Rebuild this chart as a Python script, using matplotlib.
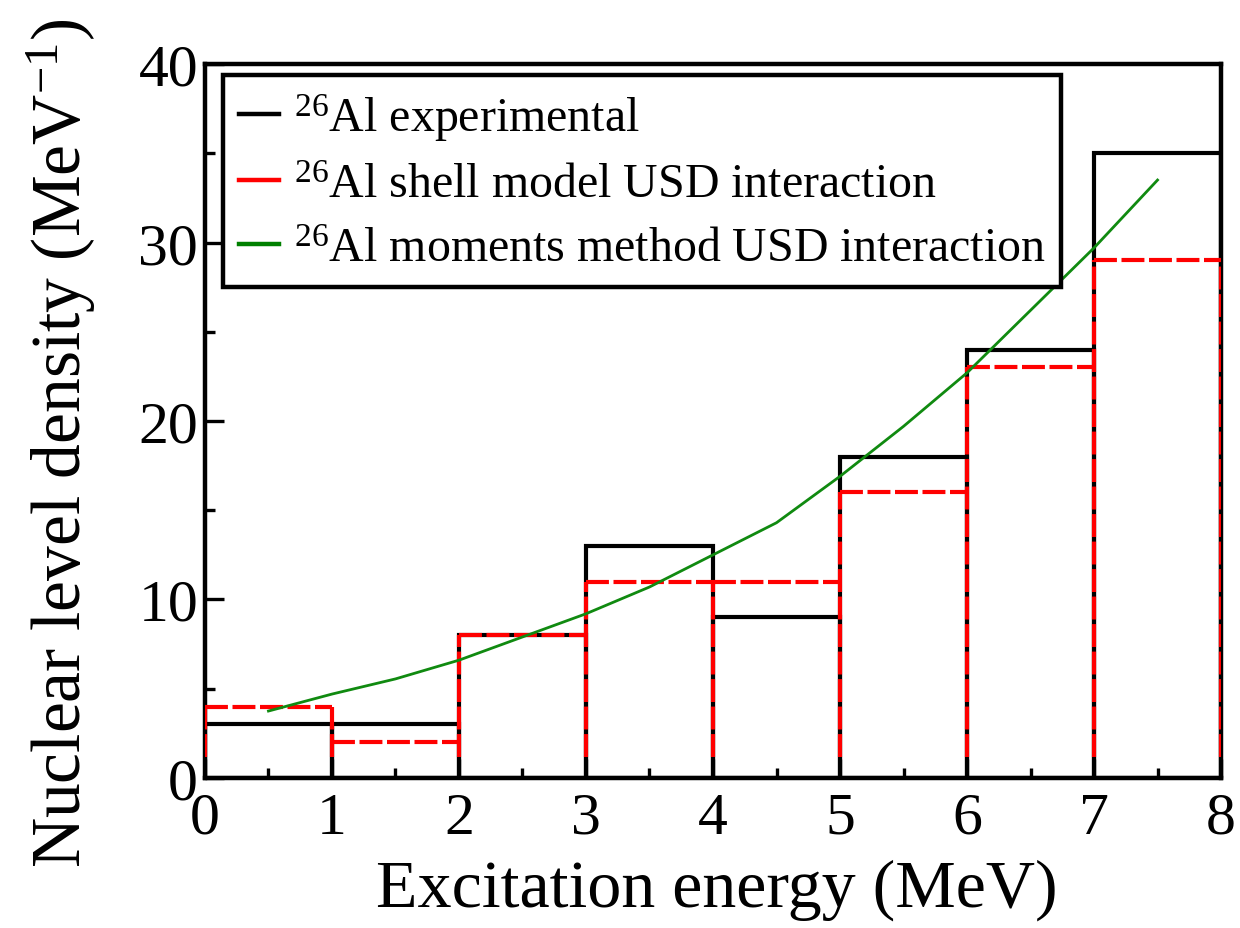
import numpy as np
import matplotlib
matplotlib.use("Agg")
import matplotlib.pyplot as plt
from matplotlib.ticker import MultipleLocator

# histogram bins (MeV)
bin_edges = [0, 1, 2, 3, 4, 5, 6, 7, 8]
exp_density = [3, 3, 8, 13, 9, 18, 24, 35]
sm_density = [4, 2, 8, 11, 11, 16, 23, 29]

# moments method curve
mm_energy = [0.5, 1.0, 1.5, 2.0, 2.5, 3.0, 3.5, 4.0, 4.5, 5.0, 5.5, 6.0, 6.5, 7.0, 7.5]
mm_density = [3.75, 4.7, 5.55, 6.6, 7.9, 9.2, 10.7, 12.5, 14.3, 16.9, 19.7, 22.7, 26.2, 29.7, 33.5]

labels = [r"$^{26}$Al experimental",
          r"$^{26}$Al shell model USD interaction",
          r"$^{26}$Al moments method USD interaction"]

plt.rcParams["font.family"] = ["Liberation Serif", "DejaVu Serif"]
plt.rcParams["mathtext.fontset"] = "custom"
plt.rcParams["mathtext.rm"] = "Liberation Serif"
plt.rcParams["mathtext.it"] = "Liberation Serif:italic"
plt.rcParams["mathtext.bf"] = "Liberation Serif:bold"


def main():
    edges = np.array(bin_edges, dtype=float)
    exp_v = np.array(exp_density, dtype=float)
    sm_v = np.array(sm_density, dtype=float)

    fig = plt.figure(figsize=(12.4, 9.29), dpi=100)
    ax = fig.add_axes([0.1653, 0.1615, 0.8194, 0.7685])

    lw = 3.0
    # experimental: bar outlines
    ax.bar(edges[:-1], exp_v, width=np.diff(edges), align="edge", fill=False,
           edgecolor="black", linewidth=lw, zorder=2)

    # shell model: red outlines, dashed so the black shows through
    dash = (5.5, 1.1)
    ax.hlines(sm_v, edges[:-1], edges[1:], colors="red", linewidth=lw,
              linestyles=[(0, dash)], zorder=3)
    vert_top = np.maximum(np.r_[0, sm_v], np.r_[sm_v, 0])
    ax.vlines(edges, 1.15, vert_top, colors="red", linewidth=lw,
              linestyles=[(0, dash)], zorder=3)

    ax.plot(mm_energy, mm_density, color="#108a10", linewidth=2.0, zorder=4)

    # legend proxies
    h_exp, = ax.plot([], [], color="black", linewidth=3.2)
    h_sm, = ax.plot([], [], color="red", linewidth=3.2)
    h_mm, = ax.plot([], [], color="#008000", linewidth=3.2)
    leg = ax.legend([h_exp, h_sm, h_mm], labels, loc="upper left",
                    bbox_to_anchor=(0.0177, 0.9846), borderaxespad=0,
                    fontsize=34.5, handlelength=0.85, handletextpad=0.3,
                    labelspacing=0.42, borderpad=0.33, fancybox=False,
                    framealpha=1, edgecolor="black")
    leg.get_frame().set_linewidth(3.2)

    ax.set_xlim(0, 8)
    ax.set_ylim(0, 40)
    ax.xaxis.set_major_locator(MultipleLocator(1))
    ax.xaxis.set_minor_locator(MultipleLocator(0.5))
    ax.yaxis.set_major_locator(MultipleLocator(10))
    ax.yaxis.set_minor_locator(MultipleLocator(5))
    ax.tick_params(which="both", direction="in", top=False, right=False,
                   labelsize=43, width=2.4)
    ax.tick_params(which="major", length=13.5)
    ax.tick_params(axis="x", which="major", pad=10)
    ax.tick_params(axis="y", which="major", pad=5)
    ax.tick_params(which="minor", length=7.2)
    for sp in ax.spines.values():
        sp.set_linewidth(3.2)

    ax.set_xlabel("Excitation energy (MeV)", fontsize=49)
    ax.set_ylabel(r"Nuclear level density (MeV$^{-1}$)", fontsize=50)
    ax.xaxis.set_label_coords(0.504, -0.113)
    ax.yaxis.set_label_coords(-0.105, 0.47)

    fig.savefig("out.png", dpi=100)
    plt.close(fig)


if __name__ == "__main__":
    main()
